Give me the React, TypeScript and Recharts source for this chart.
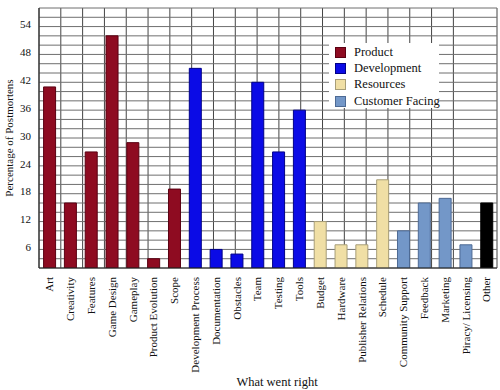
import { BarChart, Bar, XAxis, YAxis, CartesianGrid, Cell, Legend } from 'recharts'

const CATEGORIES = [
  'Art', 'Creativity', 'Features', 'Game Design', 'Gameplay', 'Product Evolution', 'Scope',
  'Development Process', 'Documentation', 'Obstacles', 'Team', 'Testing', 'Tools',
  'Budget', 'Hardware', 'Publisher Relations', 'Schedule',
  'Community Support', 'Feedback', 'Marketing', 'Piracy/ Licensing',
  'Other',
]

const VALUES = [41, 16, 27, 52, 29, 4, 19, 45, 6, 5, 42, 27, 36, 12, 7, 7, 21, 10, 16, 17, 7, 16]

const GROUPS = [
  'Product', 'Product', 'Product', 'Product', 'Product', 'Product', 'Product',
  'Development', 'Development', 'Development', 'Development', 'Development', 'Development',
  'Resources', 'Resources', 'Resources', 'Resources',
  'Customer Facing', 'Customer Facing', 'Customer Facing', 'Customer Facing',
  'Other',
]

const LEGEND_GROUPS = ['Product', 'Development', 'Resources', 'Customer Facing']

const Y_TICKS = [2, 4, 6, 8, 10, 12, 14, 16, 18, 20, 22, 24, 26, 28, 30, 32, 34, 36, 38, 40, 42, 44, 46, 48, 50, 52, 54, 56, 58]
const Y_LABELED = [6, 12, 18, 24, 30, 36, 42, 48, 54]

const FILL: Record<string, string> = {
  Product: '#8e0b21',
  Development: '#0b0be6',
  Resources: '#f0dfa5',
  'Customer Facing': '#7397c8',
  Other: '#000000',
}

const EDGE: Record<string, string> = {
  Product: '#5a0012',
  Development: '#000088',
  Resources: '#a89e78',
  'Customer Facing': '#4d6a94',
  Other: '#000000',
}

const FONT = 'Liberation Serif, Times, serif'

const data = CATEGORIES.map((name, i) => ({ name, value: VALUES[i], group: GROUPS[i] }))
const boundaryTicks = CATEGORIES.map((_, i) => i).concat(CATEGORIES.length)

function XTick({ x, y, payload }: any) {
  const ty = y + 1
  return (
    <text
      x={x}
      y={ty}
      transform={`rotate(-90 ${x} ${ty})`}
      textAnchor="end"
      dy="0.35em"
      style={{ fontFamily: FONT, fontSize: 11 }}
      fill="#111"
    >
      {payload.value}
    </text>
  )
}

function YTick({ x, y, payload }: any) {
  if (!Y_LABELED.includes(payload.value)) return null
  return (
    <text x={x} y={y} textAnchor="end" dy="0.15em" style={{ fontFamily: FONT, fontSize: 11 }} fill="#111">
      {payload.value}
    </text>
  )
}

function LegendBox() {
  return (
    <div style={{ background: '#fff', width: 110, height: 65, paddingTop: 1, boxSizing: 'border-box' }}>
      {LEGEND_GROUPS.map((g) => (
        <div key={g} style={{ display: 'flex', alignItems: 'center', height: 16.3, paddingLeft: 6 }}>
          <span
            style={{
              display: 'inline-block',
              flexShrink: 0,
              width: 9,
              height: 9,
              background: FILL[g],
              border: `1px solid ${EDGE[g]}`,
              marginRight: 8,
            }}
          />
          <span style={{ fontFamily: FONT, fontSize: 12.5, color: '#111', whiteSpace: 'nowrap' }}>{g}</span>
        </div>
      ))}
    </div>
  )
}

export default function App() {
  return (
    <div style={{ position: 'absolute', left: 0, top: 0, width: 500, height: 390, background: '#fff', fontFamily: FONT }}>
      <BarChart
        width={500}
        height={390}
        data={data}
        margin={{ top: 8, right: 3, left: 0, bottom: 0 }}
        barCategoryGap="22%"
        style={{ fontFamily: FONT }}
      >
        <CartesianGrid horizontal={false} xAxisId="grid" stroke="#444" strokeWidth={1} />
        <CartesianGrid vertical={false} stroke="#6f6f6f" strokeWidth={1} />
        <XAxis
          dataKey="name"
          interval={0}
          height={122}
          tick={<XTick />}
          tickLine={false}
          axisLine={{ stroke: '#222' }}
          label={{
            value: 'What went right',
            position: 'insideBottom',
            offset: 4,
            dx: 9,
            style: { fontFamily: FONT, fontSize: 12.5, fill: '#111' },
          }}
        />
        <XAxis xAxisId="grid" type="number" domain={[0, CATEGORIES.length]} ticks={boundaryTicks} hide />
        <YAxis
          width={39}
          domain={[2, 58]}
          ticks={Y_TICKS}
          interval={0}
          allowDataOverflow
          tick={<YTick />}
          tickLine={false}
          axisLine={{ stroke: '#222' }}
          label={{
            value: 'Percentage of Postmortens',
            angle: -90,
            position: 'insideLeft',
            offset: 9,
            style: { textAnchor: 'middle', fontFamily: FONT, fontSize: 11, fill: '#111' },
          }}
        />
        <Legend
          layout="vertical"
          align="center"
          verticalAlign="middle"
          content={<LegendBox />}
          wrapperStyle={{ left: 329, top: 43, width: 110, height: 65 }}
        />
        <Bar dataKey="value" isAnimationActive={false} strokeWidth={1}>
          {data.map((d) => (
            <Cell key={d.name} fill={FILL[d.group]} stroke={EDGE[d.group]} />
          ))}
        </Bar>
      </BarChart>
    </div>
  )
}
